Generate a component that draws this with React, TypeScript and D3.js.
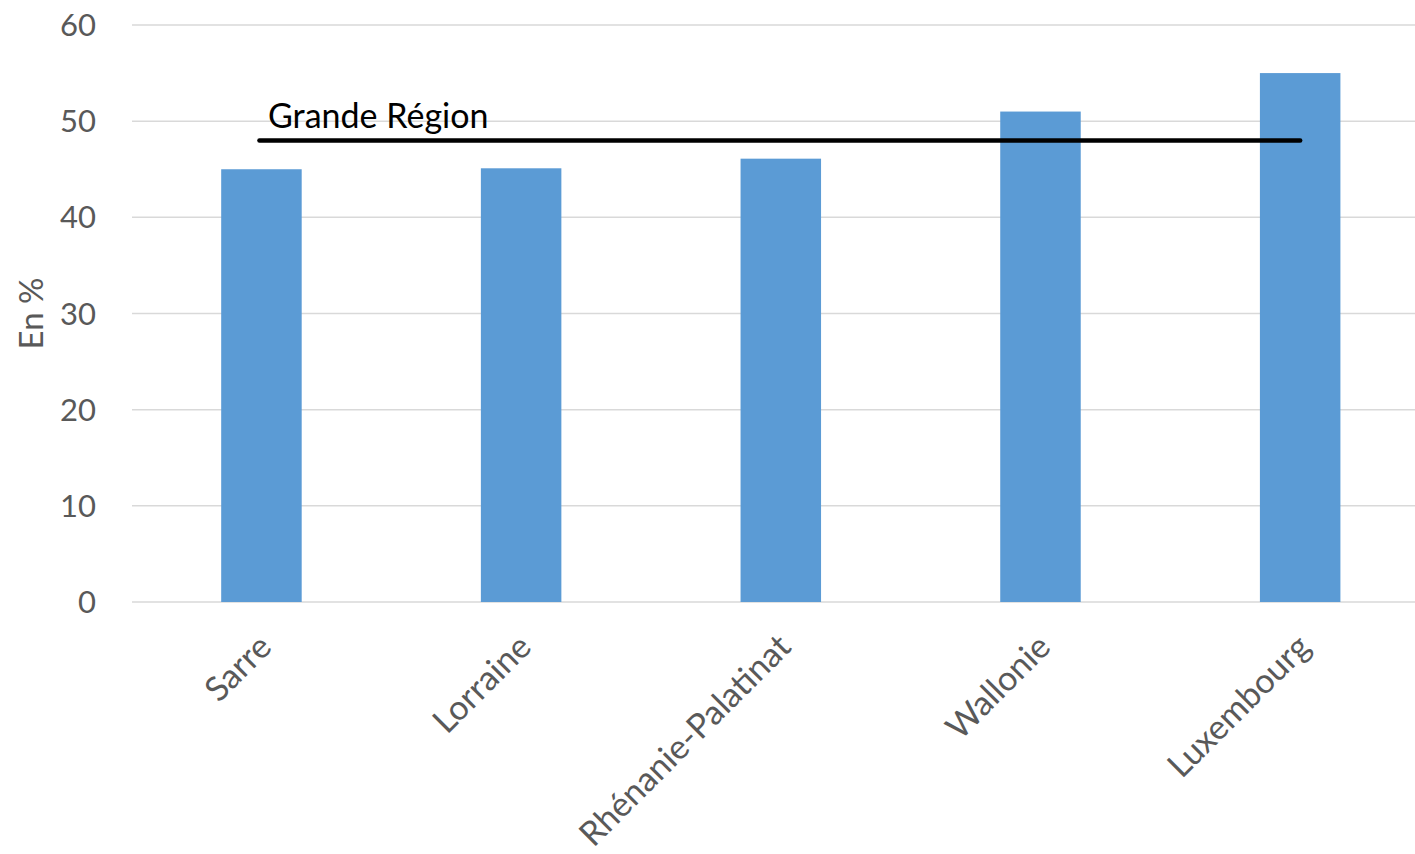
import * as d3 from "d3";
import { useEffect, useRef } from "react";

const categories = ["Sarre", "Lorraine", "Rhénanie-Palatinat", "Wallonie", "Luxembourg"];
const values = [45, 45.1, 46.1, 51, 55];
const grandeRegion = 48;
const yTicks = [0, 10, 20, 30, 40, 50, 60];

export default function App() {
  const svgRef = useRef<SVGSVGElement>(null);
  const width = 1415;
  const height = 854;
  const font = "Lato, 'Open Sans', sans-serif";

  useEffect(() => {
    const svg = d3.select(svgRef.current);
    svg.selectAll("*").remove();

    const x = d3.scaleBand<string>().domain(categories).range([131.6, 1430]).paddingInner(0.69).paddingOuter(0.345);
    const y = d3.scaleLinear().domain([0, 60]).range([602, 25]);

    // gridlines
    svg
      .append("g")
      .selectAll("line")
      .data(yTicks)
      .join("line")
      .attr("x1", 132)
      .attr("x2", width)
      .attr("y1", (d) => y(d))
      .attr("y2", (d) => y(d))
      .attr("stroke", "#d9d9d9")
      .attr("stroke-width", 1.5);

    // y tick labels
    svg
      .append("g")
      .selectAll("text")
      .data(yTicks)
      .join("text")
      .attr("x", 96)
      .attr("y", (d) => y(d))
      .attr("dy", "0.36em")
      .attr("text-anchor", "end")
      .attr("font-family", font)
      .attr("font-size", 31)
      .attr("fill", "#595959")
      .text((d) => d);

    // bars
    svg
      .append("g")
      .selectAll("rect")
      .data(values)
      .join("rect")
      .attr("x", (_, i) => x(categories[i])!)
      .attr("width", x.bandwidth())
      .attr("y", (d) => y(d))
      .attr("height", (d) => y(0) - y(d))
      .attr("fill", "#5b9bd5");

    // x labels
    svg
      .append("g")
      .selectAll("text")
      .data(categories)
      .join("text")
      .attr("transform", (d) => `translate(${x(d)! + x.bandwidth() / 2 + 12},${649}) rotate(-45)`)
      .attr("text-anchor", "end")
      .attr("font-family", font)
      .attr("font-size", 34)
      .attr("fill", "#595959")
      .text((d) => d);

    // Grande Région line
    const xc = (c: string) => x(c)! + x.bandwidth() / 2;
    svg
      .append("line")
      .attr("x1", xc(categories[0]) - 2)
      .attr("x2", xc(categories[categories.length - 1]))
      .attr("y1", y(grandeRegion))
      .attr("y2", y(grandeRegion))
      .attr("stroke", "#000")
      .attr("stroke-width", 4.5)
      .attr("stroke-linecap", "round");

    svg
      .append("text")
      .attr("x", 268)
      .attr("y", y(grandeRegion) - 12)
      .attr("font-family", font)
      .attr("font-size", 34)
      .attr("fill", "#000")
      .text("Grande Région");

    // y axis title
    svg
      .append("text")
      .attr("transform", `translate(43,${y(30)}) rotate(-90)`)
      .attr("text-anchor", "middle")
      .attr("font-family", font)
      .attr("font-size", 33)
      .attr("fill", "#595959")
      .text("En %");
  }, []);

  return (
    <svg
      ref={svgRef}
      width={width}
      height={height}
      style={{ position: "absolute", left: 0, top: 0, background: "#fff" }}
    />
  );
}
